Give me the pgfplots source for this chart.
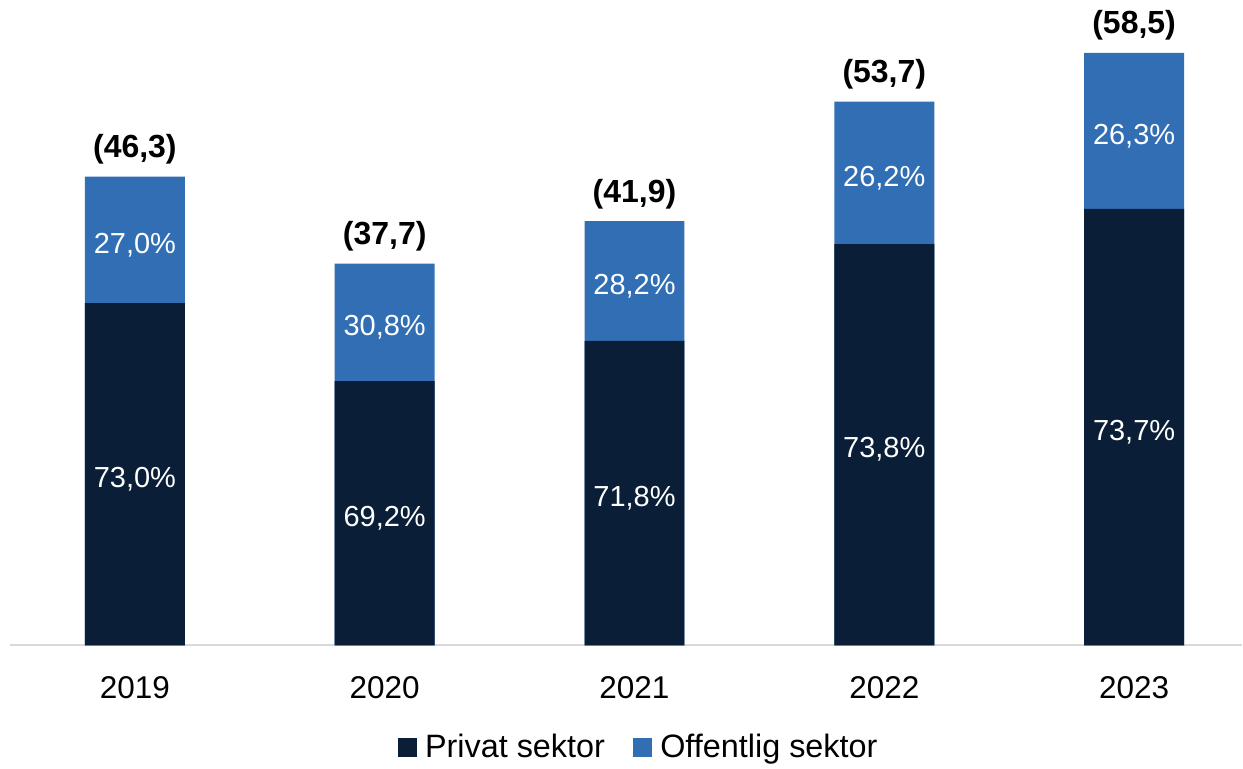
\documentclass[border=0pt]{standalone}
\usepackage{pgfplots}
\pgfplotsset{compat=1.18}
\usepackage{fontspec}
\setmainfont{Liberation Sans}

\definecolor{privat}{HTML}{0A1F37}
\definecolor{offentlig}{HTML}{316EB4}
\definecolor{baseline}{HTML}{D9D9D9}

\begin{document}
\begin{tikzpicture}
\begin{axis}[
    scale only axis,
    width=616.5pt,
    height=323pt,
    xmin=-0.5, xmax=4.432,
    ymin=0, ymax=63.73,
    clip=false,
    axis x line=bottom,
    axis y line=none,
    x axis line style={draw=baseline, line width=1pt, -},
    xtick={0,1,2,3,4},
    xticklabels={2019,2020,2021,2022,2023},
    xtick style={draw=none},
    xticklabel style={font=\fontsize{15.75}{18}\selectfont, inner sep=0pt, anchor=north, yshift=-13pt},
    legend columns=2,
    legend style={draw=none, at={(0.511,-0.158)}, anchor=center,
        font=\fontsize{16.2}{19}\selectfont,
        /tikz/every even column/.append style={column sep=12pt}},
    legend image code/.code={\fill[#1] (0pt,-4.5pt) rectangle (9pt,4.5pt);
        \path[draw=none, fill=none] (9pt,0pt) -- (11.5pt,0pt);},
]
% total height drawn in the public colour, private share on top of it
\addplot[ybar, bar width=0.4, bar shift=0pt, fill=offentlig, draw=none, forget plot,
    nodes near coords, point meta=explicit symbolic,
    every node near coord/.append style={font=\bfseries\fontsize{16}{19}\selectfont,
        text=black, anchor=south, inner sep=0pt, yshift=6pt}]
    coordinates {(0,46.3)[(46,3)] (1,37.7)[(37,7)] (2,41.9)[(41,9)] (3,53.7)[(53,7)] (4,58.5)[(58,5)]};
\addplot[ybar, bar width=0.4, bar shift=0pt, fill=privat, draw=none, forget plot]
    coordinates {(0,33.80) (1,26.09) (2,30.08) (3,39.63) (4,43.11)};
% share labels at the middle of each segment
\addplot[draw=none, forget plot, nodes near coords, point meta=explicit symbolic,
    every node near coord/.append style={font=\fontsize{14.5}{17}\selectfont,
        text=white, anchor=center, yshift=-2.5pt}]
    coordinates {(0,16.90)[73,0\%] (1,13.04)[69,2\%] (2,15.04)[71,8\%] (3,19.82)[73,8\%] (4,21.56)[73,7\%]};
\addplot[draw=none, forget plot, nodes near coords, point meta=explicit symbolic,
    every node near coord/.append style={font=\fontsize{14.5}{17}\selectfont,
        text=white, anchor=center, yshift=-2.5pt}]
    coordinates {(0,40.05)[27,0\%] (1,31.89)[30,8\%] (2,35.99)[28,2\%] (3,46.67)[26,2\%] (4,50.81)[26,3\%]};
\addlegendimage{privat}
\addlegendimage{offentlig}
\legend{Privat sektor, Offentlig sektor}
\end{axis}
\path[use as bounding box] ([xshift=-5pt, yshift=-57pt]current axis.south west)
    rectangle (current axis.north east);
\end{tikzpicture}
\end{document}
